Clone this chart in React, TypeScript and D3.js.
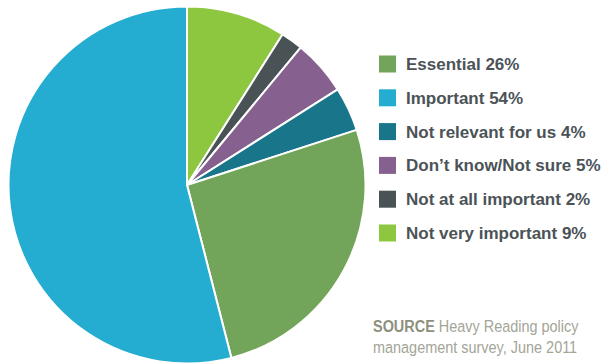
import React from "react";
import * as d3 from "d3";

const categories = [
  "Not very important",
  "Not at all important",
  "Don\u2019t know/Not sure",
  "Not relevant for us",
  "Essential",
  "Important",
];
const values = [9, 2, 5, 4, 26, 54];
const colors = ["#8dc63f", "#495255", "#86618f", "#18758a", "#72a55a", "#24acd1"];

const legendOrder = [
  "Essential",
  "Important",
  "Not relevant for us",
  "Don\u2019t know/Not sure",
  "Not at all important",
  "Not very important",
];

const W = 614;
const H = 364;

export default function App() {
  const cx = 187;
  const cy = 185;
  const r = 178.5;
  const pie = d3.pie<number>().sort(null).value((d) => d)(values);
  const arc = d3.arc<d3.PieArcDatum<number>>().innerRadius(0).outerRadius(r);
  const legendY = d3.scalePoint<string>().domain(legendOrder).range([64, 233]);

  return (
    <div style={{ position: "fixed", left: 0, top: 0, width: W, height: H, background: "#fff" }}>
      <svg width={W} height={H} style={{ display: "block" }}>
        <g transform={`translate(${cx},${cy})`}>
          {pie.map((p, i) => (
            <path key={i} d={arc(p) || ""} fill={colors[i]} stroke="#fff" strokeWidth={2} strokeLinejoin="round" />
          ))}
        </g>
        <g>
          {legendOrder.map((name) => {
            const idx = categories.indexOf(name);
            const y = legendY(name) || 0;
            return (
              <g key={name}>
                <rect x={379} y={y - 8.5} width={17} height={17} fill={colors[idx]} />
                <text
                  x={406}
                  y={y + 6}
                  fontFamily="'Liberation Sans', Arial, sans-serif"
                  fontWeight="bold"
                  fontSize={17}
                  fill="#4b5357"
                >
                  {name} {values[idx]}%
                </text>
              </g>
            );
          })}
        </g>
        <g
          transform="translate(373,0) scale(0.85,1)"
          fontFamily="'Liberation Sans', Arial, sans-serif"
          fontSize={17}
          fill="#a3a597"
        >
          <text x={0} y={332}>
            <tspan fontWeight="bold" fill="#8e907e">SOURCE</tspan> Heavy Reading policy
          </text>
          <text x={0} y={353}>management survey, June 2011</text>
        </g>
      </svg>
    </div>
  );
}
